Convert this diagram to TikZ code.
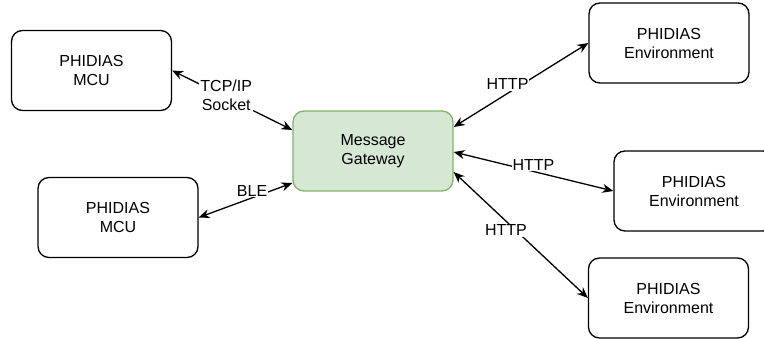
\documentclass[tikz,border=0pt]{standalone}
\usepackage{fontspec}
\setmainfont{Liberation Sans}
\usetikzlibrary{arrows.meta}
\definecolor{gwfill}{HTML}{D5E8D4}
\definecolor{gwline}{HTML}{82B366}
\tikzset{
  unit/.style={draw=black, line width=1.3pt, rounded corners=11pt, fill=white,
    minimum width=160pt, minimum height=80pt, align=center,
    font=\fontsize{16}{19}\selectfont},
  gateway/.style={unit, draw=gwline, fill=gwfill},
  link/.style={line width=1.3pt, {Stealth[length=11pt,width=9pt]}-{Stealth[length=11pt,width=9pt]}},
  tag/.style={fill=white, inner sep=1pt, align=center, font=\fontsize{16}{19}\selectfont}
}
\begin{document}
\begin{tikzpicture}[x=1pt, y=-1pt]
  \useasboundingbox (0,0) rectangle (764,339);
  \begin{scope}
    \clip (0,0) rectangle (764,339);
    % devices and environments
    \node[unit] (mcuA) at (91.5,70.5) {PHIDIAS\\MCU};
    \node[unit] (mcuB) at (118,217.5) {PHIDIAS\\MCU};
    \node[gateway] (gw) at (373,151) {Message\\Gateway};
    \node[unit] (envA) at (669,43) {PHIDIAS\\Environment};
    \node[unit] (envB) at (694,191) {PHIDIAS\\Environment};
    \node[unit] (envC) at (668.5,298) {PHIDIAS\\Environment};
    % links
    \draw[link] (mcuA.east) -- ([yshift=21pt]gw.west)
      node[tag, pos=0.45, yshift=2pt] {TCP/IP\\Socket};
    \draw[link] (mcuB.east) -- ([yshift=-32pt]gw.west)
      node[tag, pos=0.57, yshift=7pt] {BLE};
    \draw[link] ([yshift=24pt]gw.east) -- (envA.west)
      node[tag, pos=0.4, yshift=9pt] {HTTP};
    \draw[link] ([yshift=-1pt]gw.east) -- (envB.west)
      node[tag, pos=0.5, yshift=7pt] {HTTP};
    \draw[link] ([yshift=-21pt]gw.east) -- (envC.west)
      node[tag, pos=0.39, yshift=-9pt] {HTTP};
  \end{scope}
\end{tikzpicture}
\end{document}
